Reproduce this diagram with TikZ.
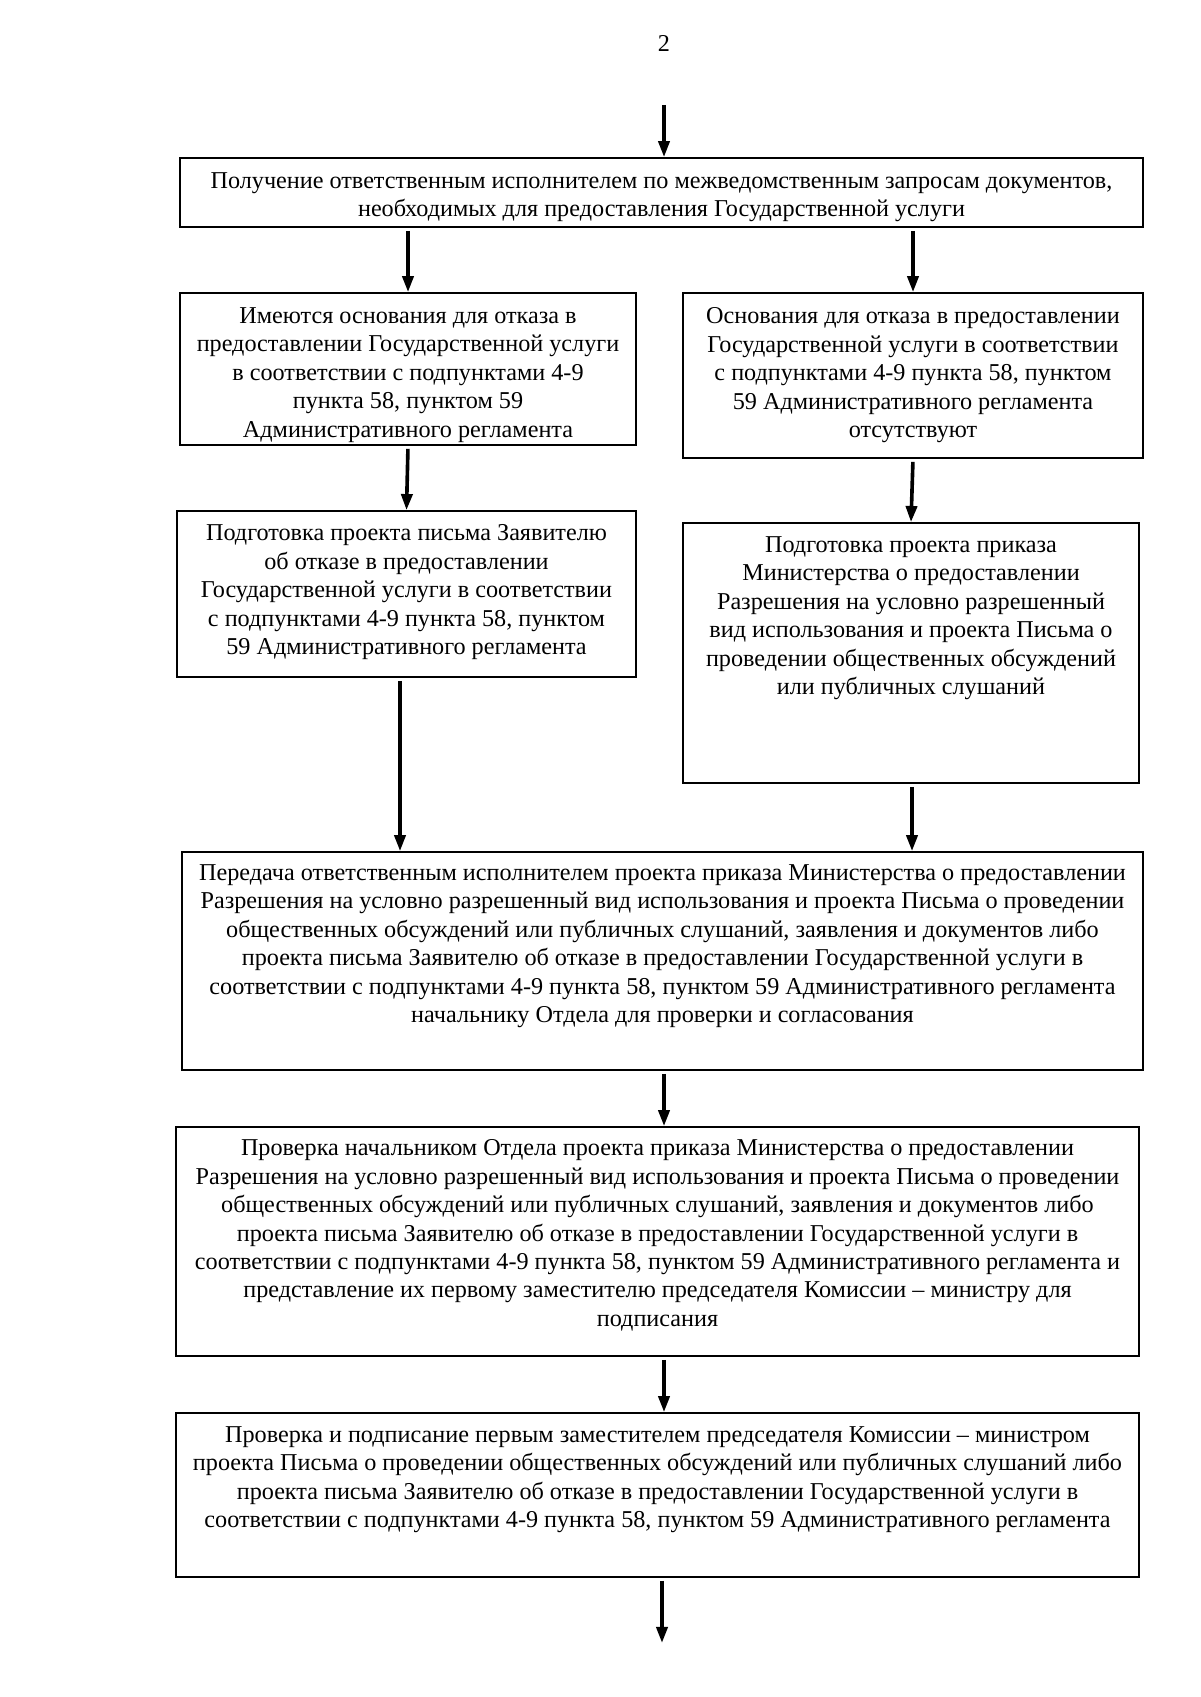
\documentclass[tikz,border=0pt]{standalone}
\usepackage{fontspec}
\setmainfont{Liberation Serif}
\usetikzlibrary{arrows.meta,fit}
\tikzset{
  x=0.49607pt, y=-0.49607pt,
  box/.style={draw, line width=0.8pt, inner sep=0pt},
  txt/.style={anchor=north, align=center, inner sep=0pt, font=\fontsize{12}{14.1}\selectfont},
  arr/.style={line width=1.8pt, -{Triangle[length=8pt,width=5.5pt]}, shorten <=1.5pt}
}
\begin{document}
\begin{tikzpicture}
\useasboundingbox (0,0) rectangle (1200,1697);
\node[font=\fontsize{12}{14.1}\selectfont] (pg) at (664,43) {2};

\node[box, fit={(180,158) (1143,227)}] (b1) {};
\node[box, fit={(180,293) (636,445)}] (b2l) {};
\node[box, fit={(683,293) (1143,458)}] (b2r) {};
\node[box, fit={(177,511) (636,677)}] (b3l) {};
\node[box, fit={(683,523) (1139,783)}] (b3r) {};
\node[box, fit={(182,852) (1143,1070)}] (b4) {};
\node[box, fit={(176,1127) (1139,1356)}] (b5) {};
\node[box, fit={(176,1413) (1139,1577)}] (b6) {};

\node[txt] (t1) at ([yshift=-7.5pt]b1.north) {Получение ответственным исполнителем по межведомственным запросам документов,\\ необходимых для предоставления Государственной услуги};
\node[txt] (t2l) at ([yshift=-7.5pt]b2l.north) {Имеются основания для отказа в\\ предоставлении Государственной услуги\\ в соответствии с подпунктами 4-9\\ пункта 58, пунктом 59\\ Административного регламента};
\node[txt] (t2r) at ([yshift=-7.5pt]b2r.north) {Основания для отказа в предоставлении\\ Государственной услуги в соответствии\\ с подпунктами 4-9 пункта 58, пунктом\\ 59 Административного регламента\\ отсутствуют};
\node[txt] (t3l) at ([yshift=-7pt]b3l.north) {Подготовка проекта письма Заявителю\\ об отказе в предоставлении\\ Государственной услуги в соответствии\\ с подпунктами 4-9 пункта 58, пунктом\\ 59 Административного регламента};
\node[txt] (t3r) at ([yshift=-7pt]b3r.north) {Подготовка проекта приказа\\ Министерства о предоставлении\\ Разрешения на условно разрешенный\\ вид использования и проекта Письма о\\ проведении общественных обсуждений\\ или публичных слушаний};
\node[txt] (t4) at ([yshift=-6.5pt]b4.north) {Передача ответственным исполнителем проекта приказа Министерства о предоставлении\\ Разрешения на условно разрешенный вид использования и проекта Письма о проведении\\ общественных обсуждений или публичных слушаний, заявления и документов либо\\ проекта письма Заявителю об отказе в предоставлении Государственной услуги в\\ соответствии с подпунктами 4-9 пункта 58, пунктом 59 Административного регламента\\ начальнику Отдела для проверки и согласования};
\node[txt] (t5) at ([yshift=-6.5pt]b5.north) {Проверка начальником Отдела проекта приказа Министерства о предоставлении\\ Разрешения на условно разрешенный вид использования и проекта Письма о проведении\\ общественных обсуждений или публичных слушаний, заявления и документов либо\\ проекта письма Заявителю об отказе в предоставлении Государственной услуги в\\ соответствии с подпунктами 4-9 пункта 58, пунктом 59 Административного регламента и\\ представление их первому заместителю председателя Комиссии – министру для\\ подписания};
\node[txt] (t6) at ([yshift=-7pt]b6.north) {Проверка и подписание первым заместителем председателя Комиссии – министром\\ проекта Письма о проведении общественных обсуждений или публичных слушаний либо\\ проекта письма Заявителю об отказе в предоставлении Государственной услуги в\\ соответствии с подпунктами 4-9 пункта 58, пунктом 59 Административного регламента};

\coordinate (start) at (664,105);
\coordinate (end) at (662,1643);
\coordinate (a3l) at (400,0);
\coordinate (a3r) at (912,0);

\draw[arr, shorten <=0pt] (start) -- (b1.north -| start);
\draw[arr] (b1.south -| b2l.north) -- (b2l.north);
\draw[arr] (b1.south -| b2r.north) -- (b2r.north);
\draw[arr] (b2l.south) -- (b3l.north);
\draw[arr] (b2r.south) -- (b3r.north);
\draw[arr] (b3l.south -| a3l) -- (b4.north -| a3l);
\draw[arr] (b3r.south -| a3r) -- (b4.north -| a3r);
\draw[arr] (b4.south -| start) -- (b5.north -| start);
\draw[arr] (b5.south -| start) -- (b6.north -| start);
\draw[arr] (b6.south -| end) -- (end);
\end{tikzpicture}
\end{document}
